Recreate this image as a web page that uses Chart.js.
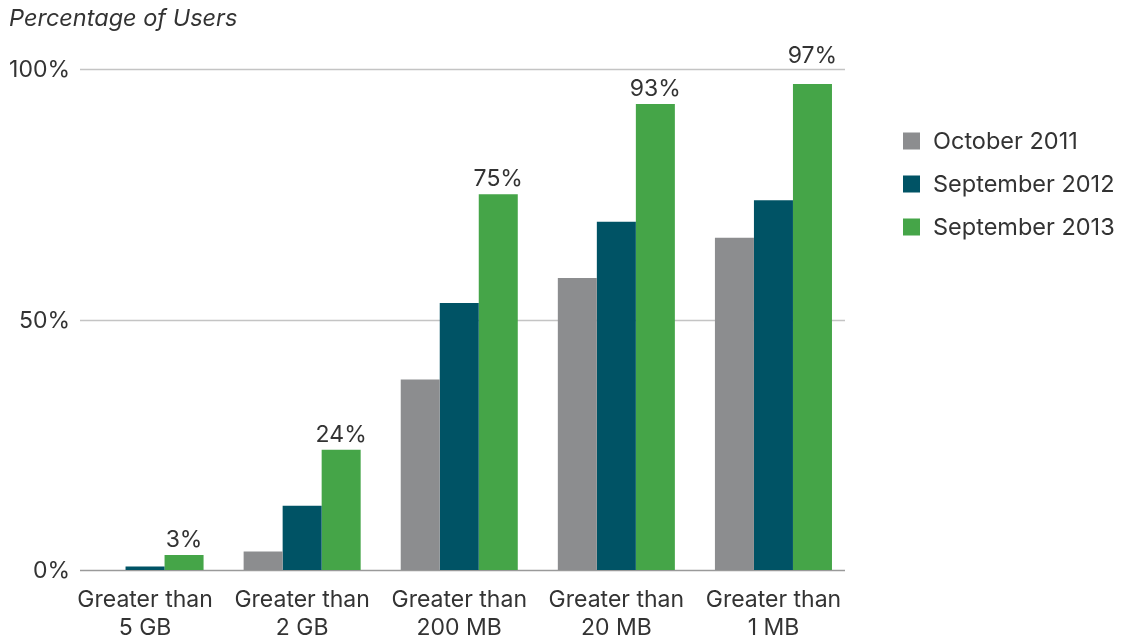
<!DOCTYPE html>
<html>
<head>
<meta charset="utf-8">
<script src="https://cdn.jsdelivr.net/npm/chart.js@4/dist/chart.umd.min.js"></script>
<style>
  html, body { margin: 0; padding: 0; background: #fff; }
  #wrap { position: relative; width: 1128px; height: 640px; }
</style>
</head>
<body>
<div id="wrap"><canvas id="c" width="1128" height="640"></canvas></div>
<script>
const categories = [
  ['Greater than', '5 GB'],
  ['Greater than', '2 GB'],
  ['Greater than', '200 MB'],
  ['Greater than', '20 MB'],
  ['Greater than', '1 MB']
];
const seriesNames = ['October 2011', 'September 2012', 'September 2013'];
const oct2011 = [0, 3.7, 38, 58.3, 66.3];
const sep2012 = [0.7, 12.8, 53.3, 69.5, 73.8];
const sep2013 = [3, 24, 75, 93, 97];
const yTicks = [0, 50, 100];
const axisTitle = 'Percentage of Users';

const colors = ['#8c8d8f', '#005365', '#45a548'];
const FONT = 'Inter, "Liberation Sans", Arial, sans-serif';
const TEXT = '#333333';

const decor = {
  id: 'decor',
  beforeDatasetsDraw(chart) {
    const ctx = chart.ctx;
    const y = chart.scales.y;
    const gx0 = 80, gx1 = 845;
    ctx.save();
    yTicks.forEach(v => {
      const py = Math.round(y.getPixelForValue(v)) + 0.5;
      ctx.strokeStyle = v === 0 ? '#9a9a9a' : '#c4c4c4';
      ctx.lineWidth = 1.5;
      ctx.beginPath();
      ctx.moveTo(gx0, py);
      ctx.lineTo(gx1, py);
      ctx.stroke();
      ctx.fillStyle = TEXT;
      ctx.font = '23px ' + FONT;
      ctx.textAlign = 'right';
      ctx.textBaseline = 'middle';
      ctx.fillText(v + '%', 70, py + 1);
    });
    ctx.font = 'italic 23.5px ' + FONT;
    ctx.textAlign = 'left';
    ctx.textBaseline = 'middle';
    ctx.fillText(axisTitle, 9, 19);
    ctx.restore();
  },
  afterDatasetsDraw(chart) {
    const ctx = chart.ctx;
    const y = chart.scales.y;
    const meta = chart.getDatasetMeta(2);
    ctx.save();
    ctx.fillStyle = TEXT;
    ctx.font = '23px ' + FONT;
    ctx.textAlign = 'center';
    ctx.textBaseline = 'alphabetic';
    const top = y.getPixelForValue(100);
    meta.data.forEach((bar, i) => {
      const v = sep2013[i];
      let by = bar.y - 8;
      if (by > top - 20 && by < top + 22) by = top - 6;
      ctx.fillText(v + '%', bar.x, by);
    });
    // legend
    const lx = 903, ly0 = 141, step = 43;
    ctx.font = '23.5px ' + FONT;
    seriesNames.forEach((name, i) => {
      const cy = ly0 + i * step;
      ctx.fillStyle = colors[i];
      ctx.fillRect(lx, cy - 8.5, 17, 17);
      ctx.fillStyle = TEXT;
      ctx.textAlign = 'left';
      ctx.textBaseline = 'middle';
      ctx.fillText(name, lx + 30, cy + 1);
    });
    ctx.restore();
  }
};

new Chart(document.getElementById('c'), {
  type: 'bar',
  data: {
    labels: categories,
    datasets: [
      { label: seriesNames[0], data: oct2011, backgroundColor: colors[0] },
      { label: seriesNames[1], data: sep2012, backgroundColor: colors[1] },
      { label: seriesNames[2], data: sep2013, backgroundColor: colors[2] }
    ]
  },
  options: {
    responsive: false,
    animation: false,
    devicePixelRatio: 1,
    layout: { padding: { left: 66.5, right: 276, top: 69, bottom: 0 } },
    datasets: { bar: { categoryPercentage: 0.745, barPercentage: 1.0 } },
    plugins: { legend: { display: false }, tooltip: { enabled: false } },
    scales: {
      x: {
        grid: { display: false, drawTicks: false },
        border: { display: false },
        ticks: {
          color: TEXT,
          font: { family: FONT, size: 23, lineHeight: 1.18 },
          padding: 17,
          maxRotation: 0,
          autoSkip: false
        },
        afterFit(scale) { scale.height = 70; }
      },
      y: {
        display: false,
        min: 0,
        max: 100
      }
    }
  },
  plugins: [decor]
});
</script>
</body>
</html>
